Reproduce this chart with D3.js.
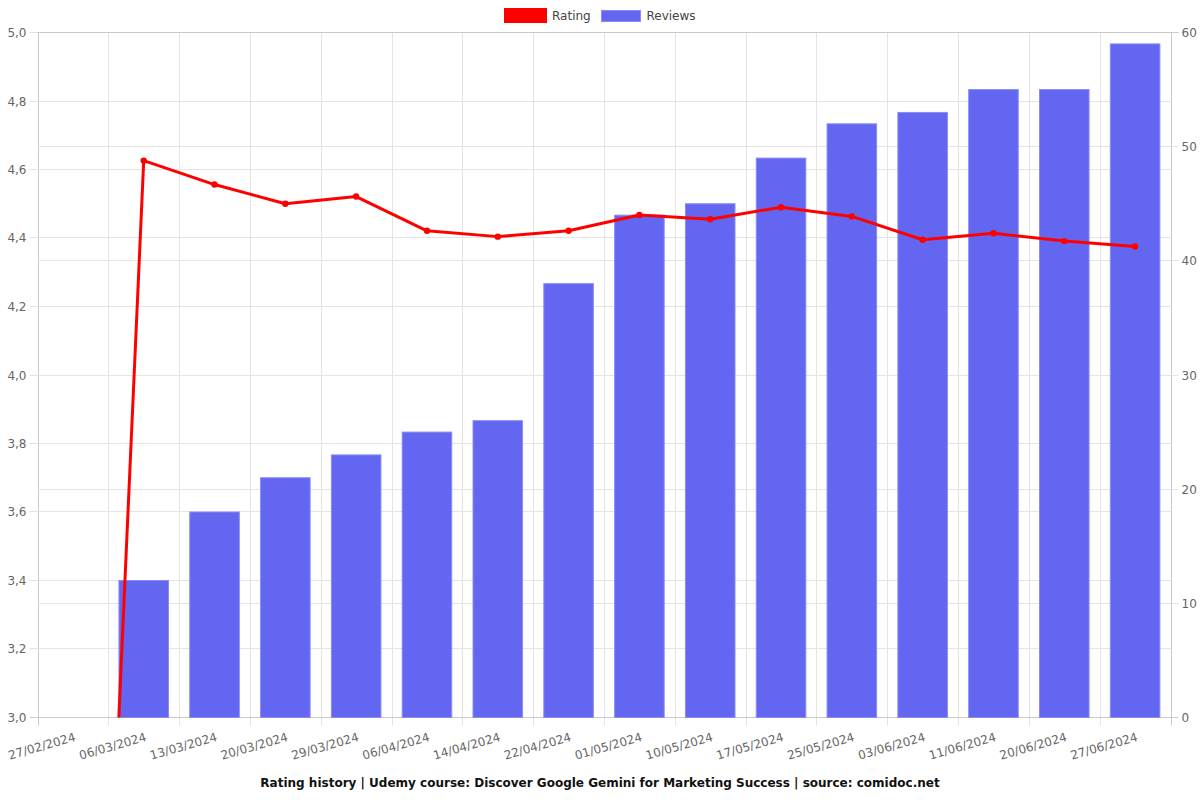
<!DOCTYPE html>
<html>
<head>
<meta charset="utf-8">
<script src="https://cdn.jsdelivr.net/npm/d3@7"></script>
<style>
  html, body { margin: 0; padding: 0; background: #fff; }
  svg { display: block; font-family: "DejaVu Sans", sans-serif; }
</style>
</head>
<body>
<svg id="chart" width="1200" height="800"></svg>
<script>
const dates = ["27/02/2024","06/03/2024","13/03/2024","20/03/2024","29/03/2024","06/04/2024","14/04/2024","22/04/2024","01/05/2024","10/05/2024","17/05/2024","25/05/2024","03/06/2024","11/06/2024","20/06/2024","27/06/2024"];
const reviews = [0,12,18,21,23,25,26,38,44,45,49,52,53,55,55,59];
const ratings = [0,4.626,4.556,4.500,4.521,4.421,4.404,4.421,4.467,4.455,4.490,4.463,4.395,4.414,4.391,4.375];
const ratingTicks = [3.0,3.2,3.4,3.6,3.8,4.0,4.2,4.4,4.6,4.8,5.0];
const reviewTicks = [0,10,20,30,40,50,60];
const titleText = "Rating history | Udemy course: Discover Google Gemini for Marketing Success | source: comidoc.net";

const svg = d3.select("#chart");
const L = 37.5, R = 1170.5, T = 32.5, B = 717.5;

const x = d3.scaleBand().domain(dates).range([L, R]).padding(0);
const yL = d3.scaleLinear().domain([3, 5]).range([B, T]);
const yR = d3.scaleLinear().domain([0, 60]).range([B, T]);
const gridColor = "#e4e4e4";
const axisColor = "#c9c9c9";
const fmtL = d => d3.format(".1f")(d).replace(".", ",");

const grid = svg.append("g");
// vertical grid at band edges, with tick marks below
const edges = dates.map(d => x(d)).concat([R]);
edges.forEach((ex, i) => {
  grid.append("line")
    .attr("x1", Math.round(ex) + 0.5).attr("x2", Math.round(ex) + 0.5)
    .attr("y1", T).attr("y2", B + 8)
    .attr("stroke", (i === 0 || i === edges.length - 1) ? axisColor : gridColor).attr("stroke-width", 1);
});
// left horizontal grid
ratingTicks.forEach(t => {
  const yy = Math.round(yL(t) - 0.5) + 0.5;
  grid.append("line").attr("x1", L - 8).attr("x2", R).attr("y1", yy).attr("y2", yy)
    .attr("stroke", (t === 3) ? axisColor : gridColor);
  svg.append("text").attr("x", L - 11).attr("y", yy).attr("dy", "0.35em")
    .attr("text-anchor", "end").attr("font-size", 12).attr("fill", "#666").text(fmtL(t));
});
// right horizontal grid
reviewTicks.forEach(t => {
  const yy = Math.round(yR(t) - 0.5) + 0.5;
  grid.append("line").attr("x1", L).attr("x2", R + 8).attr("y1", yy).attr("y2", yy)
    .attr("stroke", (t === 0 || t === 60) ? axisColor : gridColor);
  svg.append("text").attr("x", R + 11).attr("y", yy).attr("dy", "0.35em")
    .attr("text-anchor", "start").attr("font-size", 12).attr("fill", "#666").text(t);
});

// x labels
dates.forEach(d => {
  const cx = x(d) + x.bandwidth() / 2;
  svg.append("text")
    .attr("transform", `translate(${cx + 1},${B + 15}) rotate(-16)`)
    .attr("text-anchor", "end").attr("dy", "0.7em")
    .attr("font-size", 12).attr("fill", "#666").text(d);
});

// bars
const bw = x.bandwidth() * 0.7;
svg.append("g").selectAll("rect").data(dates.map((d, i) => ({ d, v: reviews[i] })).filter(o => o.v > 0))
  .join("rect")
  .attr("x", o => x(o.d) + (x.bandwidth() - bw) / 2)
  .attr("y", o => yR(o.v))
  .attr("width", bw)
  .attr("height", o => B - yR(o.v))
  .attr("fill", "#6366f1")
  .attr("stroke", "#8a8cf4").attr("stroke-width", 1);

// line
svg.append("clipPath").attr("id", "clip").append("rect")
  .attr("x", L).attr("y", T - 10).attr("width", R - L).attr("height", B - T + 10);
const pts = dates.map((d, i) => [x(d) + x.bandwidth() / 2, yL(ratings[i])]);
svg.append("path").attr("clip-path", "url(#clip)")
  .attr("d", d3.line()(pts))
  .attr("fill", "none").attr("stroke", "#ff0000").attr("stroke-width", 3)
  .attr("stroke-linejoin", "round");
svg.append("g").attr("clip-path", "url(#clip)").selectAll("circle").data(pts).join("circle")
  .attr("cx", p => p[0]).attr("cy", p => p[1]).attr("r", 3.2).attr("fill", "#ff0000");

// legend
const lg = svg.append("g");
lg.append("rect").attr("x", 505.5).attr("y", 9.5).attr("width", 40).attr("height", 12)
  .attr("fill", "#ff0000").attr("stroke", "#ff0000").attr("stroke-width", 3);
lg.append("text").attr("x", 552).attr("y", 16).attr("dy", "0.35em").attr("font-size", 12).attr("fill", "#444").text("Rating");
lg.append("rect").attr("x", 601.5).attr("y", 10.5).attr("width", 39).attr("height", 11)
  .attr("fill", "#6366f1").attr("stroke", "#8a8cf4").attr("stroke-width", 1);
lg.append("text").attr("x", 646.5).attr("y", 16).attr("dy", "0.35em").attr("font-size", 12).attr("fill", "#444").text("Reviews");

// title
svg.append("text").attr("x", 600).attr("y", 783).attr("dy", "0.35em")
  .attr("text-anchor", "middle").attr("font-size", 12).attr("font-weight", "bold").attr("fill", "#111")
  .text(titleText);
</script>
</body>
</html>
